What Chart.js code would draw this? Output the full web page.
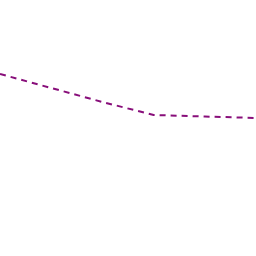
<!DOCTYPE html>
<html>
<head>
<meta charset="utf-8">
<script src="https://cdn.jsdelivr.net/npm/chart.js@4"></script>
<style>
  html, body { margin: 0; padding: 0; background: #fff; }
  #chart-wrap { width: 256px; height: 256px; }
</style>
</head>
<body>
<div id="chart-wrap"><canvas id="line-chart"></canvas></div>
<script>
const categories = ["1", "2", "3", "4", "5", "6"];
const seriesValues = [182, 168, 154, 141, 139.5, 138];
const yMin = 0;
const yMax = 256;

new Chart(document.getElementById("line-chart"), {
  type: "line",
  data: {
    labels: categories,
    datasets: [
      {
        data: seriesValues,
        borderColor: "#880e7a",
        borderWidth: 2,
        borderDash: [6, 5],
        pointRadius: 0,
        fill: false,
        tension: 0,
      },
    ],
  },
  options: {
    responsive: true,
    maintainAspectRatio: false,
    animation: false,
    layout: { padding: 0 },
    plugins: { legend: { display: false }, tooltip: { enabled: false } },
    scales: {
      x: { display: false, offset: false },
      y: { display: false, min: yMin, max: yMax },
    },
  },
});
</script>
</body>
</html>
